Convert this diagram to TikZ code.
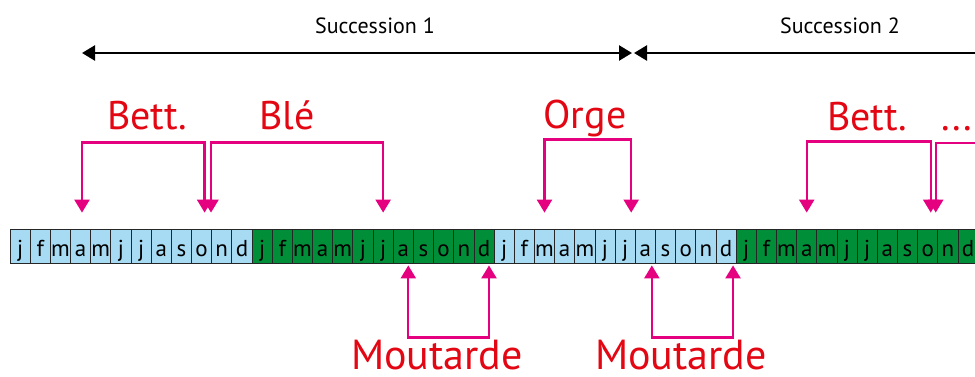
\documentclass[tikz,border=0pt]{standalone}
\usepackage{fontspec}
\setmainfont{PT Sans}
\usetikzlibrary{arrows.meta}

\definecolor{moisbleu}{RGB}{166,219,243}
\definecolor{moisvert}{RGB}{0,142,57}
\definecolor{fleche}{RGB}{228,0,127}
\definecolor{culture}{RGB}{227,6,19}

\begin{document}
\begin{tikzpicture}[x=1pt,y=1pt,
            mois/.style={draw=black!85,line width=0.8pt,minimum width=20.17pt,minimum height=34pt,
              inner sep=0pt,text height=22pt,text depth=2pt,font=\fontsize{23}{23}\selectfont},
            brk/.style={fleche,line width=2.3pt,{Triangle[length=13pt,width=15pt]}-{Triangle[length=13pt,width=15pt]}},
            duree/.style={black,line width=2.5pt,{Triangle[length=13pt,width=15pt]}-{Triangle[length=13pt,width=15pt]}},
            nomculture/.style={culture,anchor=base,inner sep=0pt,font=\fontsize{40}{40}\selectfont},
            nomsucc/.style={anchor=base,inner sep=0pt,font=\fontsize{22}{22}\selectfont}]
  \useasboundingbox (0,0) rectangle (975,376);
  % les mois
  \foreach \an/\fond in {0/moisbleu,1/moisvert,2/moisbleu,3/moisvert}
    \foreach \m [count=\k] in {j,f,m,a,m,j,j,a,s,o,n,d} {
      \pgfmathtruncatemacro{\i}{12*\an+\k}
      \node[mois,fill=\fond] (m\i) at ({10+20.17*(\i-0.5)},130) {\m};
    }
  % successions
  \coordinate (s1) at (82,323);
  \coordinate (s2) at (632,323);
  \coordinate (s3) at (634,323);
  \coordinate (s4) at (1000,323);
  \draw[duree] (s1) -- (s2);
  \draw[duree] (s3) -- (s4);
  \node[nomsucc] (succ1) at (375,342) {Succession 1};
  \node[nomsucc] (succ2) at (840,342) {Succession 2};
  % cultures
  \draw[brk] ([shift={(1.4pt,16pt)}]m4.north) -- ++(0,70) -| ([shift={(3pt,16pt)}]m10.north);
  \draw[brk] ([shift={(9.4pt,16pt)}]m10.north) -- ++(0,70) -| ([yshift=16pt]m19.north);
  \draw[brk] ([shift={(0pt,16pt)}]m27.north) -- ++(0,73) -| ([shift={(6pt,16pt)}]m31.north);
  \draw[brk] ([shift={(0pt,16pt)}]m40.north) -- ++(0,71) -| ([shift={(3pt,16pt)}]m46.north);
  \coordinate (suite) at (1000,233);
  \draw[fleche,line width=2.3pt,-{Triangle[length=13pt,width=15pt]}] (suite) -| ([shift={(8pt,16pt)}]m46.north);
  \draw[brk] ([shift={(5pt,-2pt)}]m20.south) -- ++(0,-72) -| ([shift={(5pt,-2pt)}]m24.south);
  \draw[brk] ([shift={(6.5pt,-2pt)}]m32.south) -- ++(0,-72) -| ([shift={(7pt,-2pt)}]m36.south);
  \node[nomculture] (bett1) at (147,247) {Bett.};
  \node[nomculture] (ble) at (287,247) {Blé};
  \node[nomculture] (orge) at (585,248) {Orge};
  \node[nomculture] (bett2) at (867,246) {Bett.};
  \node[nomculture] (etc) at (957,246) {...};
  \node[nomculture,font=\fontsize{42}{42}\selectfont] (mout1) at (437,7) {Moutarde};
  \node[nomculture,font=\fontsize{42}{42}\selectfont] (mout2) at (681,7) {Moutarde};
\end{tikzpicture}
\end{document}
